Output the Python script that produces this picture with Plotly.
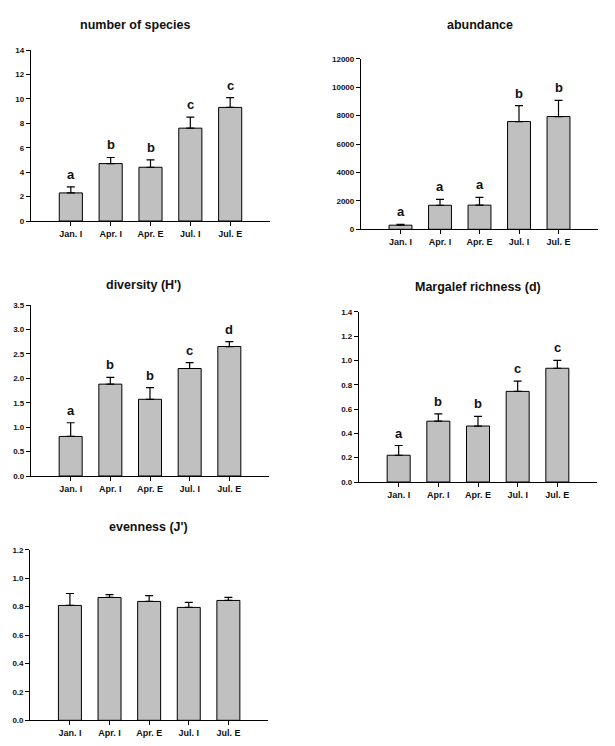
import plotly.graph_objects as go

W, H = 615, 746

categories = ["Jan. I", "Apr. I", "Apr. E", "Jul. I", "Jul. E"]

species_mean = [2.3, 4.7, 4.4, 7.6, 9.3]
species_top = [2.8, 5.2, 5.0, 8.5, 10.1]
species_letters = ["a", "b", "b", "c", "c"]

abund_mean = [290, 1690, 1700, 7580, 7930]
abund_top = [350, 2110, 2250, 8700, 9070]
abund_letters = ["a", "a", "a", "b", "b"]

div_mean = [0.81, 1.88, 1.57, 2.20, 2.65]
div_top = [1.09, 2.02, 1.81, 2.32, 2.75]
div_letters = ["a", "b", "b", "c", "d"]

marg_mean = [0.22, 0.50, 0.46, 0.745, 0.935]
marg_top = [0.30, 0.56, 0.54, 0.83, 1.00]
marg_letters = ["a", "b", "b", "c", "c"]

even_mean = [0.808, 0.864, 0.836, 0.794, 0.843]
even_top = [0.892, 0.884, 0.877, 0.829, 0.864]
even_letters = None

panels = [
    # title, means, tops, letters, ymax, dtick, fmt, px box (x0,x1,ytop,ybottom), title pos
    ("number of species", species_mean, species_top, species_letters, 14, 2, "d", (31, 270, 50, 221), (135, 25)),
    ("abundance", abund_mean, abund_top, abund_letters, 12000, 2000, "d", (361, 598, 58.7, 229.3), (480, 25)),
    ("diversity (H')", div_mean, div_top, div_letters, 3.5, 0.5, ".1f", (31, 269, 305, 476), (143, 285)),
    ("Margalef richness (d)", marg_mean, marg_top, marg_letters, 1.4, 0.2, ".1f", (359, 597, 311.7, 482), (478, 287)),
    ("evenness (J')", even_mean, even_top, even_letters, 1.2, 0.2, ".1f", (30.3, 268, 549.7, 720.3), (148, 527)),
]

FONT = "Liberation Sans, Arial, sans-serif"
fig = go.Figure()
annotations = []

for i, (title, mean, top, letters, ymax, dtick, fmt, box, tpos) in enumerate(panels):
    n = i + 1
    xa = "x" if n == 1 else f"x{n}"
    ya = "y" if n == 1 else f"y{n}"
    x0, x1, yt, yb = box
    fig.add_trace(go.Bar(
        x=categories, y=mean, xaxis=xa, yaxis=ya, width=0.58,
        marker=dict(color="#c0c0c0", line=dict(color="black", width=1)),
        error_y=dict(type="data", symmetric=False,
                     array=[t - m for t, m in zip(top, mean)],
                     arrayminus=[0] * len(mean),
                     color="black", thickness=1.2, width=4),
        showlegend=False, hoverinfo="skip",
    ))
    xkey = "xaxis" if n == 1 else f"xaxis{n}"
    ykey = "yaxis" if n == 1 else f"yaxis{n}"
    fig.update_layout(**{
        xkey: dict(domain=[x0 / W, x1 / W], anchor=ya, range=[-1, 5],
                   showline=True, linecolor="black", linewidth=1.3,
                   ticks="outside", ticklen=4, tickwidth=1, tickcolor="black",
                   showgrid=False, zeroline=False, automargin=False,
                   tickfont=dict(family=FONT, size=9, color="#111", weight="bold")),
        ykey: dict(domain=[1 - yb / H, 1 - yt / H], anchor=xa, range=[0, ymax],
                   dtick=dtick, tick0=0, tickformat=fmt,
                   showline=True, linecolor="black", linewidth=1.3,
                   ticks="outside", ticklen=4, tickwidth=1, tickcolor="black",
                   showgrid=False, zeroline=False, automargin=False,
                   tickfont=dict(family=FONT, size=8, color="#111", weight="bold")),
    })
    annotations.append(dict(
        text=title, xref="paper", yref="paper", x=tpos[0] / W, y=1 - tpos[1] / H,
        xanchor="center", yanchor="middle", showarrow=False,
        font=dict(family=FONT, size=12.5, color="#111", weight="bold")))
    if letters:
        for c, t, L in zip(categories, top, letters):
            annotations.append(dict(
                text=L, xref=xa, yref=ya, x=c, y=t, yshift=3,
                xanchor="center", yanchor="bottom", showarrow=False,
                font=dict(family=FONT, size=13, color="#111", weight="bold")))

fig.update_layout(width=W, height=H, margin=dict(l=0, r=0, t=0, b=0, autoexpand=False),
                  paper_bgcolor="white", plot_bgcolor="white",
                  annotations=annotations, bargap=0.4)
fig.write_html("out.html", config={"displayModeBar": False},
               post_script="document.body.style.margin='0';document.body.style.overflow='hidden';")
